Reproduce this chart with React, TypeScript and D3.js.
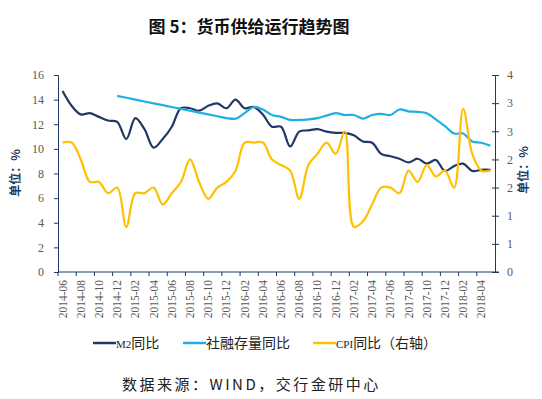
import * as d3 from "d3";
import { useEffect, useRef } from "react";

const months = [
  "2014-06", "2014-07", "2014-08", "2014-09", "2014-10", "2014-11", "2014-12",
  "2015-01", "2015-02", "2015-03", "2015-04", "2015-05", "2015-06", "2015-07", "2015-08", "2015-09", "2015-10", "2015-11", "2015-12",
  "2016-01", "2016-02", "2016-03", "2016-04", "2016-05", "2016-06", "2016-07", "2016-08", "2016-09", "2016-10", "2016-11", "2016-12",
  "2017-01", "2017-02", "2017-03", "2017-04", "2017-05", "2017-06", "2017-07", "2017-08", "2017-09", "2017-10", "2017-11", "2017-12",
  "2018-01", "2018-02", "2018-03", "2018-04", "2018-05",
];

// M2同比 (左轴, %)
const m2 = [
  14.7, 13.5, 12.8, 12.9, 12.6, 12.3, 12.2,
  10.8, 12.5, 11.6, 10.1, 10.8, 11.8, 13.3, 13.3, 13.1, 13.5, 13.7, 13.3,
  14.0, 13.3, 13.4, 12.8, 11.8, 11.8, 10.2, 11.4, 11.5, 11.6, 11.4, 11.3,
  11.3, 11.1, 10.6, 10.5, 9.6, 9.4, 9.2, 8.9, 9.2, 8.8, 9.1, 8.2,
  8.6, 8.8, 8.2, 8.3, 8.3,
];

// 社融存量同比 (左轴, %), 2014-12 起
const tsf: (number | null)[] = [
  null, null, null, null, null, null, 14.3,
  14.15, 14.0, 13.85, 13.7, 13.55, 13.4, 13.25, 13.1, 12.95, 12.8, 12.65, 12.5,
  12.45, 12.9, 13.4, 13.2, 12.75, 12.6, 12.35, 12.35, 12.4, 12.5, 12.7, 12.9,
  12.75, 12.75, 12.45, 12.75, 12.85, 12.75, 13.2, 13.05, 13.0, 12.9, 12.4, 11.85,
  11.25, 11.25, 10.6, 10.5, 10.25,
];

// CPI同比 (右轴, %)
const cpi = [
  2.3, 2.3, 2.0, 1.6, 1.6, 1.4, 1.5,
  0.8, 1.4, 1.4, 1.5, 1.2, 1.4, 1.6, 2.0, 1.6, 1.3, 1.5, 1.6,
  1.8, 2.3, 2.3, 2.3, 2.0, 1.9, 1.8, 1.3, 1.9, 2.1, 2.3, 2.1,
  2.5, 0.8, 0.9, 1.2, 1.5, 1.5, 1.4, 1.8, 1.6, 1.9, 1.7, 1.8,
  1.5, 2.9, 2.1, 1.8, 1.8,
];

const leftTicks = [0, 2, 4, 6, 8, 10, 12, 14, 16];
const rightTicks = [0, 0.5, 1, 1.5, 2, 2.5, 3, 3.5];

const NAVY = "#1F3864";
const BLUE = "#21AEE4";
const GOLD = "#FFC000";
const GREY = "#595959";

export default function App() {
  const ref = useRef<SVGSVGElement>(null);

  useEffect(() => {
    document.body.style.margin = "0";
    const svg = d3.select(ref.current);
    svg.selectAll("*").remove();

    const left = 58, right = 495, top = 75, bottom = 272;

    const x = d3.scaleBand().domain(months).range([left, right]);
    const cx = (m: string) => (x(m) as number) + x.bandwidth() / 2;
    const yL = d3.scaleLinear().domain([0, 16]).range([bottom, top]);
    const yR = d3.scaleLinear().domain([0, 3.5]).range([bottom, top]);

    // title
    svg.append("text")
      .attr("x", 249).attr("y", 33)
      .attr("text-anchor", "middle")
      .attr("font-family", "'Noto Sans CJK SC', sans-serif")
      .attr("font-weight", "bold")
      .attr("font-size", 17)
      .attr("fill", "#111")
      .text("图 5：货币供给运行趋势图");

    // left axis
    const gl = svg.append("g").attr("transform", `translate(${left},0)`)
      .call(d3.axisLeft(yL).tickValues(leftTicks).tickSize(4).tickPadding(10));
    gl.select(".domain").attr("stroke", NAVY);
    gl.selectAll(".tick line").attr("stroke", NAVY);
    gl.selectAll(".tick text")
      .attr("font-family", "'Liberation Serif', serif")
      .attr("font-size", 12).attr("fill", GREY);

    // right axis
    const gr = svg.append("g").attr("transform", `translate(${right},0)`)
      .call(d3.axisRight(yR).tickValues(rightTicks).tickSize(4).tickPadding(8)
        .tickFormat(d => String(Math.round(+d))));
    gr.select(".domain").attr("stroke", NAVY);
    gr.selectAll(".tick line").attr("stroke", NAVY).attr("x1", -3);
    gr.selectAll(".tick text")
      .attr("font-family", "'Liberation Serif', serif")
      .attr("font-size", 12).attr("fill", GREY);

    // x axis
    svg.append("line")
      .attr("x1", left).attr("x2", right + 4)
      .attr("y1", bottom).attr("y2", bottom)
      .attr("stroke", NAVY);
    svg.append("g").selectAll("line")
      .data(months.filter((_, i) => i % 2 === 0))
      .join("line")
      .attr("x1", d => x(d) as number).attr("x2", d => x(d) as number)
      .attr("y1", bottom).attr("y2", bottom + 4)
      .attr("stroke", NAVY);
    svg.append("g").selectAll("text")
      .data(months.filter((_, i) => i % 2 === 0))
      .join("text")
      .attr("transform", d => `translate(${cx(d) + 4},${bottom + 8}) rotate(-90)`)
      .attr("text-anchor", "end")
      .attr("font-family", "'Liberation Serif', serif")
      .attr("font-size", 11.5)
      .attr("fill", GREY)
      .text(d => d);

    // unit labels
    [[20, 173], [528, 170]].forEach(([ux, uy]) => {
      svg.append("text")
        .attr("transform", `translate(${ux},${uy}) rotate(-90)`)
        .attr("text-anchor", "middle")
        .attr("font-family", "'Noto Sans CJK SC', sans-serif")
        .attr("font-weight", "bold")
        .attr("font-size", 12)
        .attr("fill", NAVY)
        .text("单位：%");
    });

    const lineL = d3.line<number | null>()
      .defined(d => d != null)
      .x((_, i) => cx(months[i]))
      .y(d => yL(d as number))
      .curve(d3.curveCatmullRom.alpha(0.5));
    const lineR = d3.line<number>()
      .x((_, i) => cx(months[i]))
      .y(d => yR(d))
      .curve(d3.curveCatmullRom.alpha(0.5));

    svg.append("path").attr("d", lineL(m2)).attr("fill", "none")
      .attr("stroke", NAVY).attr("stroke-width", 2.2);
    svg.append("path").attr("d", lineL(tsf)).attr("fill", "none")
      .attr("stroke", BLUE).attr("stroke-width", 2.2);
    svg.append("path").attr("d", lineR(cpi)).attr("fill", "none")
      .attr("stroke", GOLD).attr("stroke-width", 2.2);

    // legend
    const legend = [
      { x: 93, color: NAVY, latin: "M2", cn: "同比" },
      { x: 183, color: BLUE, latin: "", cn: "社融存量同比" },
      { x: 313, color: GOLD, latin: "CPI", cn: "同比（右轴）" },
    ];
    const lg = svg.append("g").selectAll("g").data(legend).join("g")
      .attr("transform", d => `translate(${d.x},343)`);
    lg.append("line").attr("x1", 0).attr("x2", 23).attr("y1", 0).attr("y2", 0)
      .attr("stroke", d => d.color).attr("stroke-width", 2.5);
    const lt = lg.append("text").attr("x", 23).attr("y", 5)
      .attr("font-family", "'Noto Sans CJK SC', sans-serif")
      .attr("font-size", 14).attr("fill", "#222");
    lt.append("tspan").attr("font-family", "'Liberation Serif', serif")
      .attr("font-size", 11).text(d => d.latin);
    lt.append("tspan").text(d => d.cn);

    // source
    svg.append("text")
      .attr("x", 122).attr("y", 390)
      .attr("font-family", "'Noto Sans CJK SC', sans-serif")
      .attr("font-size", 15)
      .attr("letter-spacing", 2.5)
      .attr("fill", "#222")
      .text("数据来源：WIND，交行金研中心");
  }, []);

  return <svg ref={ref} width={542} height={399} style={{ display: "block", background: "#fff" }} />;
}
